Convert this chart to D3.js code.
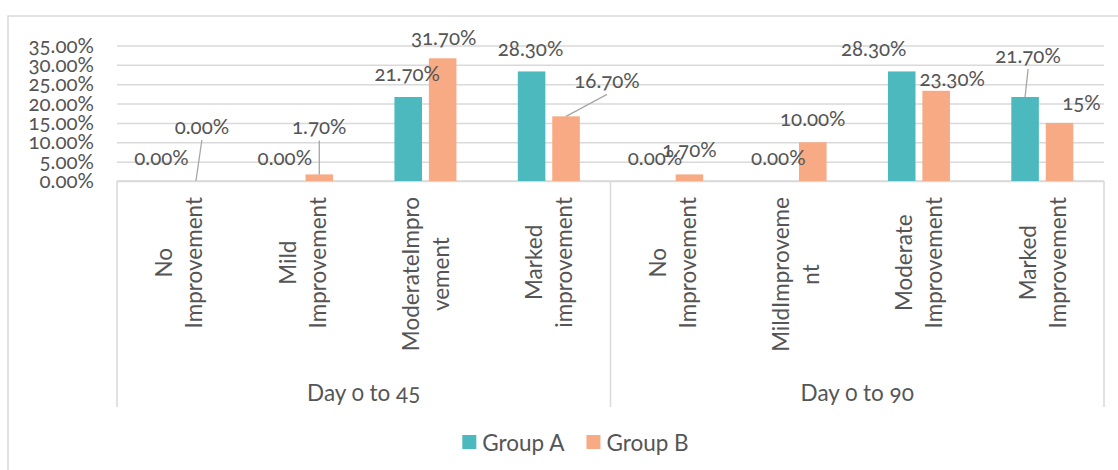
<!DOCTYPE html>
<html>
<head>
<meta charset="utf-8">
<script src="https://cdn.jsdelivr.net/npm/d3@7"></script>
<style>
  html, body { margin: 0; padding: 0; background: #ffffff; }
  svg { display: block; font-family: Lato, "Open Sans", sans-serif; }
  .num { font-variant-numeric: oldstyle-nums; font-feature-settings: "onum" 1; }
</style>
</head>
<body>
<svg id="chart" width="1118" height="470"></svg>
<script>
// ---------- data ----------
const periods = ["Day 0 to 45", "Day 0 to 90"];
const categories = [
  ["No", "Improvement"],
  ["Mild", "Improvement"],
  ["ModerateImpro", "vement"],
  ["Marked", "improvement"],
  ["No", "Improvement"],
  ["MildImproveme", "nt"],
  ["Moderate", "Improvement"],
  ["Marked", "Improvement"]
];
const categoryPeriod = [0, 0, 0, 0, 1, 1, 1, 1];
const seriesNames = ["Group A", "Group B"];
const groupA = [0, 0, 21.7, 28.3, 0, 0, 28.3, 21.7];
const groupB = [0, 1.7, 31.7, 16.7, 1.7, 10, 23.3, 15];
const labelsA = ["0.00%", "0.00%", "21.70%", "28.30%", "0.00%", "0.00%", "28.30%", "21.70%"];
const labelsB = ["0.00%", "1.70%", "31.70%", "16.70%", "1.70%", "10.00%", "23.30%", "15%"];
const yTicks = [0, 5, 10, 15, 20, 25, 30, 35];

// ---------- layout / style (not data) ----------
const colors = ["#4BB9BE", "#F7AA84"];
const textColor = "#555555";
const lineColor = "#D9D9D9";
// manual label offsets (dx, dy) from bar top center, and whether a leader line is drawn
const offA = [[0,-24,0],[0,-24,0],[-1,-24,0],[-1,-23,0],[0,-24,0],[0,-24,0],[-28,-23,0],[3,-42,1]];
const offB = [[6,-55,1],[0,-48,1],[1,-21,0],[41,-36,1],[0,-25,0],[0,-24,0],[16,-13,0],[22,-21,0]];

const svg = d3.select("#chart");
const plot = { left: 117, right: 1104, top: 45.5, bottom: 181 };
const axisBottom = 407;
const numSize = "20.5px";
const txtSize = "22.5px";

// outer frame (clipped by the viewport on the right and bottom)
svg.append("rect").attr("x", 8).attr("y", 16).attr("width", 1200).attr("height", 600)
  .attr("fill", "none").attr("stroke", lineColor).attr("stroke-width", 1.5);

const x0 = d3.scaleBand().domain(d3.range(categories.length)).range([plot.left, plot.right]);
const barsSpan = 62;
const x1 = d3.scaleBand().domain(seriesNames)
  .range([(x0.bandwidth() - barsSpan) / 2, (x0.bandwidth() + barsSpan) / 2]).paddingInner(0.2);
const y = d3.scaleLinear().domain([0, 35]).range([plot.bottom, plot.top]);

// gridlines
const yAxis = d3.axisLeft(y).tickValues(yTicks).tickSize(-(plot.right - plot.left))
  .tickFormat(d => d3.format(".2f")(d) + "%").tickPadding(23);
const gy = svg.append("g").attr("transform", `translate(${plot.left},0)`).call(yAxis);
gy.select(".domain").remove();
gy.selectAll(".tick line").attr("stroke", lineColor).attr("stroke-width", 1.5);
gy.selectAll(".tick text").attr("class", "num").attr("fill", textColor)
  .style("font-size", numSize).style("font-family", "Lato, 'Open Sans', sans-serif");

// category axis frame
const periodBounds = periods.map((p, pi) => {
  const idx = categoryPeriod.map((c, i) => c === pi ? i : -1).filter(i => i >= 0);
  return [x0(idx[0]), x0(idx[idx.length - 1]) + x0.bandwidth()];
});
svg.append("line").attr("x1", plot.left).attr("x2", plot.right).attr("y1", y(0)).attr("y2", y(0))
  .attr("stroke", lineColor).attr("stroke-width", 1.5);
const dividers = [periodBounds[0][0], periodBounds[0][1], periodBounds[1][1]];
svg.selectAll(".divider").data(dividers).enter().append("line")
  .attr("x1", d => d).attr("x2", d => d).attr("y1", y(0)).attr("y2", axisBottom)
  .attr("stroke", lineColor).attr("stroke-width", 1.5);

// bars
const rows = categories.map((c, i) => ({ i, vals: [groupA[i], groupB[i]] }));
const cat = svg.selectAll(".cat").data(rows).enter().append("g")
  .attr("transform", d => `translate(${x0(d.i)},0)`);
cat.selectAll("rect").data(d => d.vals.map((v, s) => ({ v, s }))).enter().append("rect")
  .attr("x", d => x1(seriesNames[d.s])).attr("width", x1.bandwidth())
  .attr("y", d => y(d.v)).attr("height", d => y(0) - y(d.v))
  .attr("fill", d => colors[d.s]);

// data labels
const labelData = [];
categories.forEach((c, i) => {
  [[groupA, labelsA, offA], [groupB, labelsB, offB]].forEach(([vals, labs, offs], s) => {
    const bx = x0(i) + x1(seriesNames[s]) + x1.bandwidth() / 2;
    const by = y(vals[i]);
    labelData.push({ bx, by, lx: bx + offs[i][0], ly: by + offs[i][1], leader: offs[i][2], text: labs[i] });
  });
});
labelData.filter(d => d.leader).forEach(d => {
  svg.append("line").attr("x1", d.lx).attr("y1", d.ly + 14).attr("x2", d.bx).attr("y2", d.by)
    .attr("stroke", "#A6A6A6").attr("stroke-width", 1.3);
});
svg.selectAll(".dlabel").data(labelData).enter().append("text")
  .attr("class", "num")
  .attr("x", d => d.lx).attr("y", d => d.ly)
  .attr("text-anchor", "middle").attr("dominant-baseline", "central")
  .attr("fill", textColor).style("font-size", numSize)
  .text(d => d.text);

// category labels (rotated, two lines)
const catLabelTop = 197;
const lineGap = 15;
categories.forEach((lines, i) => {
  const cx = x0(i) + x0.bandwidth() / 2;
  const g = svg.append("g");
  const texts = lines.map((t, k) => g.append("text")
    .attr("text-anchor", "middle").attr("dominant-baseline", "central")
    .attr("fill", textColor).style("font-size", txtSize).text(t));
  const maxLen = d3.max(texts, t => t.node().getComputedTextLength());
  const cy = catLabelTop + maxLen / 2;
  texts.forEach((t, k) => {
    const lx = cx + (k === 0 ? -lineGap : lineGap);
    t.attr("transform", `translate(${lx},${cy}) rotate(-90)`);
  });
});

// period labels
svg.selectAll(".period").data(periods).enter().append("text")
  .attr("class", "num")
  .attr("x", (d, i) => (periodBounds[i][0] + periodBounds[i][1]) / 2).attr("y", 392)
  .attr("text-anchor", "middle").attr("dominant-baseline", "central")
  .attr("fill", textColor).style("font-size", txtSize).text(d => d);

// legend
const legend = svg.append("g");
let lxPos = 0;
seriesNames.forEach((name, s) => {
  const item = legend.append("g").attr("transform", `translate(${lxPos},0)`);
  item.append("rect").attr("x", 0).attr("y", -7).attr("width", 14).attr("height", 14).attr("fill", colors[s]);
  const t = item.append("text").attr("x", 20).attr("y", 0).attr("dominant-baseline", "central")
    .attr("fill", textColor).style("font-size", txtSize).text(name);
  lxPos += 20 + t.node().getComputedTextLength() + 22;
});
const legendWidth = lxPos - 22;
legend.attr("transform", `translate(${575.5 - legendWidth / 2},442)`);
</script>
</body>
</html>
